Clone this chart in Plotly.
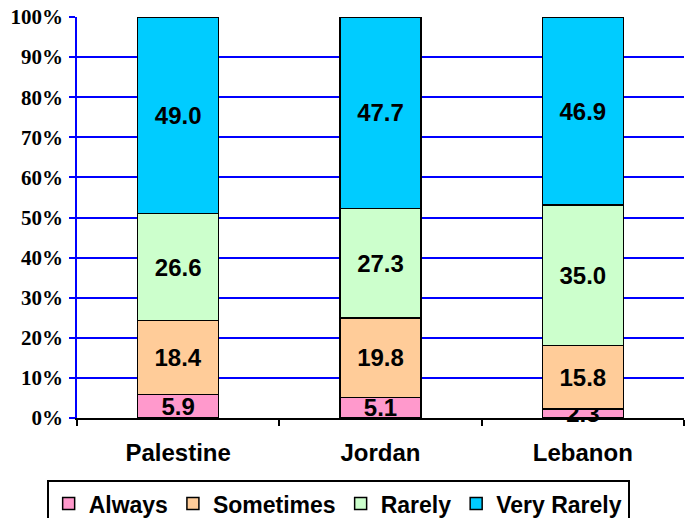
import plotly.graph_objects as go

categories = ["Palestine", "Jordan", "Lebanon"]
series_names = ["Always", "Sometimes", "Rarely", "Very Rarely"]
always = [5.9, 5.1, 2.3]
sometimes = [18.4, 19.8, 15.8]
rarely = [26.6, 27.3, 35.0]
very_rarely = [49.0, 47.7, 46.9]
colors = ["#FF99CC", "#FFCC99", "#CCFFCC", "#00CCFF"]
y_tick_vals = [0, 10, 20, 30, 40, 50, 60, 70, 80, 90, 100]
y_tick_text = [f"{v}%" for v in y_tick_vals]

fig = go.Figure()
for name, vals, col in zip(series_names, [always, sometimes, rarely, very_rarely], colors):
    fig.add_trace(go.Bar(
        x=categories, y=vals, name=name,
        marker=dict(color=col, line=dict(color="black", width=1.5)),
        text=[f"{v:.1f}" for v in vals], textposition="inside",
        insidetextanchor="middle", constraintext="none",
        textfont=dict(family="Liberation Sans, Arial", size=24, color="black", weight="bold"),
        cliponaxis=False,
    ))

fig.update_layout(
    barmode="stack", barnorm="percent", bargap=0.6,
    width=691, height=518,
    margin=dict(l=77, r=7, t=17, b=100, autoexpand=False),
    plot_bgcolor="white", paper_bgcolor="white",
    uniformtext=dict(minsize=8, mode="show"),
    showlegend=True,
    legend=dict(
        orientation="h", x=-0.05, xanchor="left", y=-0.155, yanchor="top",
        bordercolor="black", borderwidth=2, traceorder="normal",
        font=dict(family="Liberation Sans, Arial", size=23, color="black", weight="bold"),
        itemwidth=30,
    ),
)
fig.update_xaxes(
    automargin=False,
    showline=True, linecolor="black", linewidth=1.5,
    ticks="outside", tickson="boundaries", tickcolor="black", ticklen=6, tickwidth=1.5,
    ticklabelstandoff=12,
    tickfont=dict(family="Liberation Sans, Arial", size=24, color="black", weight="bold"),
    showgrid=False,
)
fig.update_yaxes(
    automargin=False, ticklabeloverflow="allow",
    range=[0, 100], tickvals=y_tick_vals, ticktext=y_tick_text,
    showline=True, linecolor="#0000FF", linewidth=1.5,
    ticks="outside", tickcolor="#0000FF", ticklen=6, tickwidth=1.5,
    showgrid=True, gridcolor="#0000FF", gridwidth=1.5,
    zeroline=False, ticklabelstandoff=2,
    tickfont=dict(family="Liberation Serif, Times New Roman", size=21, color="black", weight="bold"),
)

fig.write_html("out.html", config={"displayModeBar": False},
               post_script="document.body.style.margin='0';")
